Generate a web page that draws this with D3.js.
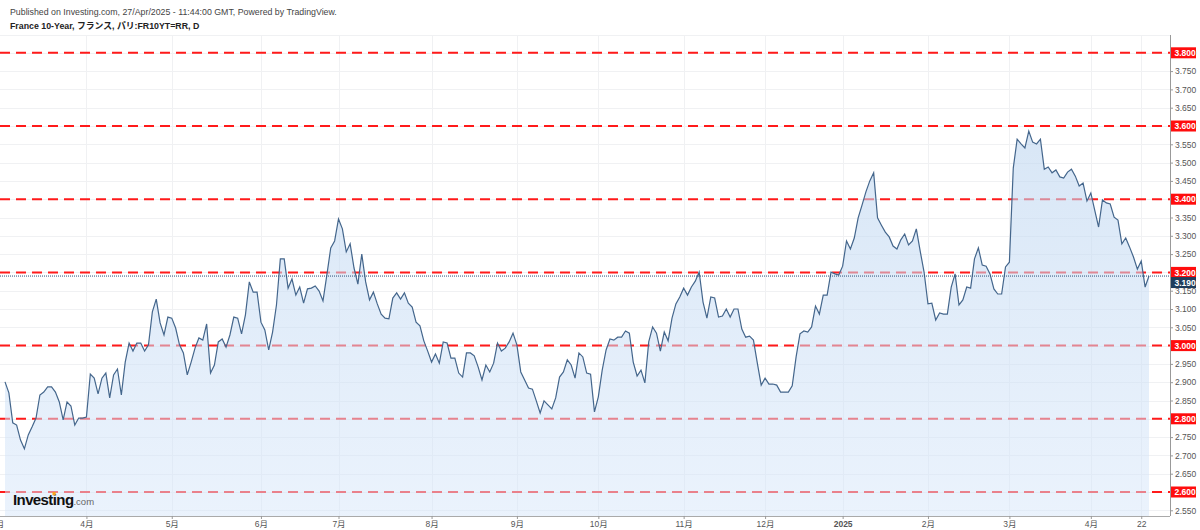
<!DOCTYPE html>
<html>
<head>
<meta charset="utf-8">
<script src="https://cdn.jsdelivr.net/npm/d3@7"></script>
<style>
  body { margin: 0; background: #fff; }
  svg { display: block; font-family: "Liberation Sans", Arial, "Noto Sans CJK JP", sans-serif; }
</style>
</head>
<body>
<svg></svg>
<script>
// Daily close, France 10-year yield (%), Mar 2024 - Apr 2025
let yields = [
  2.901, 2.871, 2.789, 2.783, 2.742, 2.718, 2.756, 2.778, 2.802, 2.865,
  2.873, 2.887, 2.887, 2.873, 2.846, 2.797, 2.846, 2.835, 2.783, 2.802,
  2.802, 2.805, 2.922, 2.911, 2.868, 2.911, 2.925, 2.857, 2.920, 2.936,
  2.865, 2.955, 3.007, 2.985, 3.007, 3.007, 2.985, 3.002,
  3.092, 3.127, 3.062, 3.029, 3.078, 3.075, 3.048, 3.002, 2.980, 2.920,
  2.955, 2.993, 3.021, 3.015, 3.059, 2.925, 2.947, 3.010, 3.018, 2.996,
  3.029, 3.078, 3.075, 3.032, 3.084, 3.174, 3.146, 3.146, 3.064, 3.043,
  2.988, 3.037, 3.111, 3.237, 3.237, 3.157, 3.182, 3.138, 3.160,
  3.116, 3.155, 3.157, 3.163, 3.149, 3.122, 3.193, 3.267, 3.286, 3.346,
  3.319, 3.256, 3.278, 3.212, 3.168, 3.250, 3.174, 3.125, 3.146, 3.114,
  3.086, 3.075, 3.073, 3.130, 3.144, 3.127, 3.144, 3.116, 3.105, 3.064,
  3.054, 3.013, 2.985, 2.955, 2.977, 2.952, 3.010, 3.007, 2.966, 2.966,
  2.925, 2.914, 2.980, 2.980, 2.972, 2.942, 2.906, 2.947, 2.928, 2.952,
  3.007, 2.985, 2.993, 3.010, 3.034, 3.002, 2.928, 2.906, 2.884, 2.881,
  2.849, 2.816, 2.849, 2.838, 2.827, 2.857, 2.914, 2.928, 2.961, 2.947,
  2.911, 2.980, 2.969, 2.925, 2.922, 2.819, 2.860,
  2.933, 2.988, 3.018, 3.015, 3.023, 3.023, 3.040, 3.034, 2.955, 2.917,
  2.933, 2.898, 3.010, 3.051, 3.034, 2.985, 3.037, 3.013, 3.075, 3.114,
  3.133, 3.157, 3.138, 3.160, 3.176, 3.201, 3.119, 3.075, 3.133, 3.130,
  3.078, 3.081, 3.100, 3.078, 3.100, 3.100, 3.045, 3.023, 3.026, 3.015,
  2.952, 2.892, 2.911, 2.895, 2.895, 2.892, 2.873, 2.873, 2.873, 2.890,
  2.969,
  3.032, 3.040, 3.037, 3.051, 3.108, 3.086, 3.138, 3.138, 3.201, 3.196,
  3.193, 3.217, 3.286, 3.264, 3.294, 3.349, 3.384, 3.420, 3.450, 3.472,
  3.349, 3.329, 3.310, 3.297, 3.272, 3.264, 3.289, 3.305, 3.275, 3.286,
  3.319, 3.258, 3.201, 3.114, 3.116, 3.070, 3.089, 3.086, 3.086, 3.160,
  3.196, 3.111,
  3.125, 3.160, 3.157, 3.237, 3.267, 3.220, 3.217, 3.196, 3.155, 3.141,
  3.141, 3.215, 3.228, 3.485, 3.564, 3.551, 3.540, 3.586, 3.556, 3.551,
  3.564, 3.482, 3.488, 3.472, 3.480, 3.461, 3.458, 3.474, 3.482, 3.463,
  3.436, 3.444, 3.395, 3.417, 3.370, 3.324, 3.398, 3.390, 3.387, 3.351,
  3.343, 3.278, 3.294, 3.269, 3.242, 3.209, 3.231, 3.160, 3.190
];

// x axis labels and the trading-day index each one sits on
let tickLabels = ["3月", "4月", "5月", "6月", "7月", "8月", "9月", "10月", "11月", "12月", "2025", "2月", "3月", "4月", "22"];
let tickIndex = [-2, 21, 43, 66, 86, 110, 132, 153, 175, 196, 216, 238, 259, 280, 293];

// horizontal levels drawn in red
let levels = [2.6, 2.8, 3.0, 3.2, 3.4, 3.6, 3.8];
let lastPrice = 3.190;

let svgWidth = 1200, svgHeight = 530;
let plotLeft = 0, plotRight = 1170, plotTop = 35, plotBottom = 516;

let svg = d3.select("svg")
    .attr("width", svgWidth)
    .attr("height", svgHeight);

let xScale = d3.scaleLinear()
    .domain([0, yields.length - 1])
    .range([5, 1149]);

let yScale = d3.scaleLinear()
    .domain([2.55, 3.8])
    .range([510.3, 52.8]);

// header
svg.append("text")
    .attr("x", 10).attr("y", 14.5)
    .attr("font-size", 8.8).attr("fill", "#444")
    .text("Published on Investing.com, 27/Apr/2025 - 11:44:00 GMT, Powered by TradingView.");
svg.append("text")
    .attr("x", 10).attr("y", 28.5)
    .attr("font-size", 8.8).attr("font-weight", "bold").attr("fill", "#222")
    .text("France 10-Year, フランス, パリ:FR10YT=RR, D");

svg.append("clipPath").attr("id", "plot-clip")
    .append("rect")
    .attr("x", plotLeft).attr("y", plotTop)
    .attr("width", plotRight - plotLeft).attr("height", plotBottom - plotTop);

let plot = svg.append("g").attr("clip-path", "url(#plot-clip)");

// grid
let yGridValues = d3.range(2.55, 3.86, 0.05);
plot.selectAll(".hgrid")
    .data(yGridValues)
    .enter()
    .append("line")
    .attr("x1", plotLeft).attr("x2", plotRight)
    .attr("y1", d => Math.round(yScale(d)) + 0.5)
    .attr("y2", d => Math.round(yScale(d)) + 0.5)
    .attr("stroke", "#f0f1f3");

plot.selectAll(".vgrid")
    .data(tickIndex)
    .enter()
    .append("line")
    .attr("x1", d => Math.round(xScale(d)) + 0.5)
    .attr("x2", d => Math.round(xScale(d)) + 0.5)
    .attr("y1", plotTop).attr("y2", plotBottom)
    .attr("stroke", "#f0f1f3");

// red dashed levels
plot.selectAll(".level")
    .data(levels)
    .enter()
    .append("line")
    .attr("x1", plotLeft).attr("x2", plotRight)
    .attr("y1", d => yScale(d)).attr("y2", d => yScale(d))
    .attr("stroke", "#ff1a1a")
    .attr("stroke-width", 2)
    .attr("stroke-dasharray", "10,6");

// area + line
let defs = svg.append("defs");
let grad = defs.append("linearGradient")
    .attr("id", "area-grad")
    .attr("x1", 0).attr("y1", 0).attr("x2", 0).attr("y2", 1);
grad.append("stop").attr("offset", "0%").attr("stop-color", "rgb(190,214,240)").attr("stop-opacity", 0.6);
grad.append("stop").attr("offset", "100%").attr("stop-color", "rgb(214,230,250)").attr("stop-opacity", 0.5);

let area = d3.area()
    .x((d, i) => xScale(i))
    .y0(plotBottom)
    .y1(d => yScale(d));

let line = d3.line()
    .x((d, i) => xScale(i))
    .y(d => yScale(d));

plot.append("path")
    .datum(yields)
    .attr("d", area)
    .attr("fill", "url(#area-grad)");

plot.append("path")
    .datum(yields)
    .attr("d", line)
    .attr("fill", "none")
    .attr("stroke", "#44668c")
    .attr("stroke-width", 1.2);

// last price dotted line
plot.append("line")
    .attr("x1", plotLeft).attr("x2", plotRight)
    .attr("y1", yScale(lastPrice)).attr("y2", yScale(lastPrice))
    .attr("stroke", "#2b5079")
    .attr("stroke-width", 1)
    .attr("stroke-dasharray", "1,1");

// x axis
let x_axis = d3.axisBottom(xScale)
    .tickValues(tickIndex)
    .tickFormat((d, i) => tickLabels[i])
    .tickSize(3)
    .tickSizeOuter(0);

let gx = svg.append("g")
    .attr("transform", `translate(0, ${plotBottom})`)
    .call(x_axis);
gx.select(".domain").attr("d", `M${plotLeft},0.5H${plotRight}`).attr("stroke", "#aaa");
gx.selectAll(".tick line").attr("stroke", "#999");
gx.selectAll(".tick text")
    .attr("font-size", 8.5)
    .attr("fill", "#555")
    .attr("dy", "0.6em")
    .attr("font-weight", (d, i) => tickLabels[i] === "2025" ? "bold" : "normal")
    .attr("font-family", "'Liberation Sans', Arial, 'Noto Sans CJK JP', sans-serif");

// right axis
let y_axis = d3.axisRight(yScale)
    .tickValues(d3.range(2.55, 3.801, 0.05))
    .tickFormat(d3.format(".3f"))
    .tickSize(3)
    .tickSizeOuter(0);

let gy = svg.append("g")
    .attr("transform", `translate(${plotRight}, 0)`)
    .call(y_axis);
gy.select(".domain").attr("d", `M0.5,${plotTop}V${plotBottom}`).attr("stroke", "#999");
gy.selectAll(".tick line").attr("stroke", "#999");
gy.selectAll(".tick text")
    .attr("x", 5)
    .attr("font-size", 8.5)
    .attr("fill", "#555")
    .attr("font-family", "'Liberation Sans', Arial, sans-serif");

// red level labels
let levelLabels = svg.selectAll(".level-label")
    .data(levels)
    .enter()
    .append("g")
    .attr("transform", d => `translate(${plotRight + 1}, ${yScale(d)})`);
levelLabels.append("rect")
    .attr("x", 0).attr("y", -5.5)
    .attr("width", 25).attr("height", 11)
    .attr("fill", "#ff0d0d");
levelLabels.append("text")
    .attr("x", 3.5).attr("y", 3.2)
    .attr("font-size", 8.5)
    .attr("font-weight", "bold")
    .attr("fill", "#fff")
    .text(d => d3.format(".3f")(d));

// last price label (pushed below the 3.200 label)
let lastLabel = svg.append("g")
    .attr("transform", `translate(${plotRight + 1}, ${yScale(lastPrice) + 6.5})`);
lastLabel.append("rect")
    .attr("x", 0).attr("y", -5.5)
    .attr("width", 25).attr("height", 11)
    .attr("fill", "#1f3d5c");
lastLabel.append("text")
    .attr("x", 3.5).attr("y", 3.2)
    .attr("font-size", 8.5)
    .attr("font-weight", "bold")
    .attr("fill", "#fff")
    .text(d3.format(".3f")(lastPrice));

// Investing.com mark
let logo = svg.append("text")
    .attr("x", 13).attr("y", 505)
    .attr("font-size", 15)
    .attr("font-weight", "bold")
    .attr("letter-spacing", -0.6)
    .attr("fill", "#111");
logo.append("tspan").text("Investing");
logo.append("tspan")
    .attr("font-size", 9.5)
    .attr("font-weight", "normal")
    .attr("letter-spacing", 0)
    .attr("fill", "#666")
    .text(".com");
svg.append("rect")
    .attr("x", 52.5).attr("y", 492)
    .attr("width", 3.2).attr("height", 3.2)
    .attr("fill", "#f7a21b");
</script>
</body>
</html>
